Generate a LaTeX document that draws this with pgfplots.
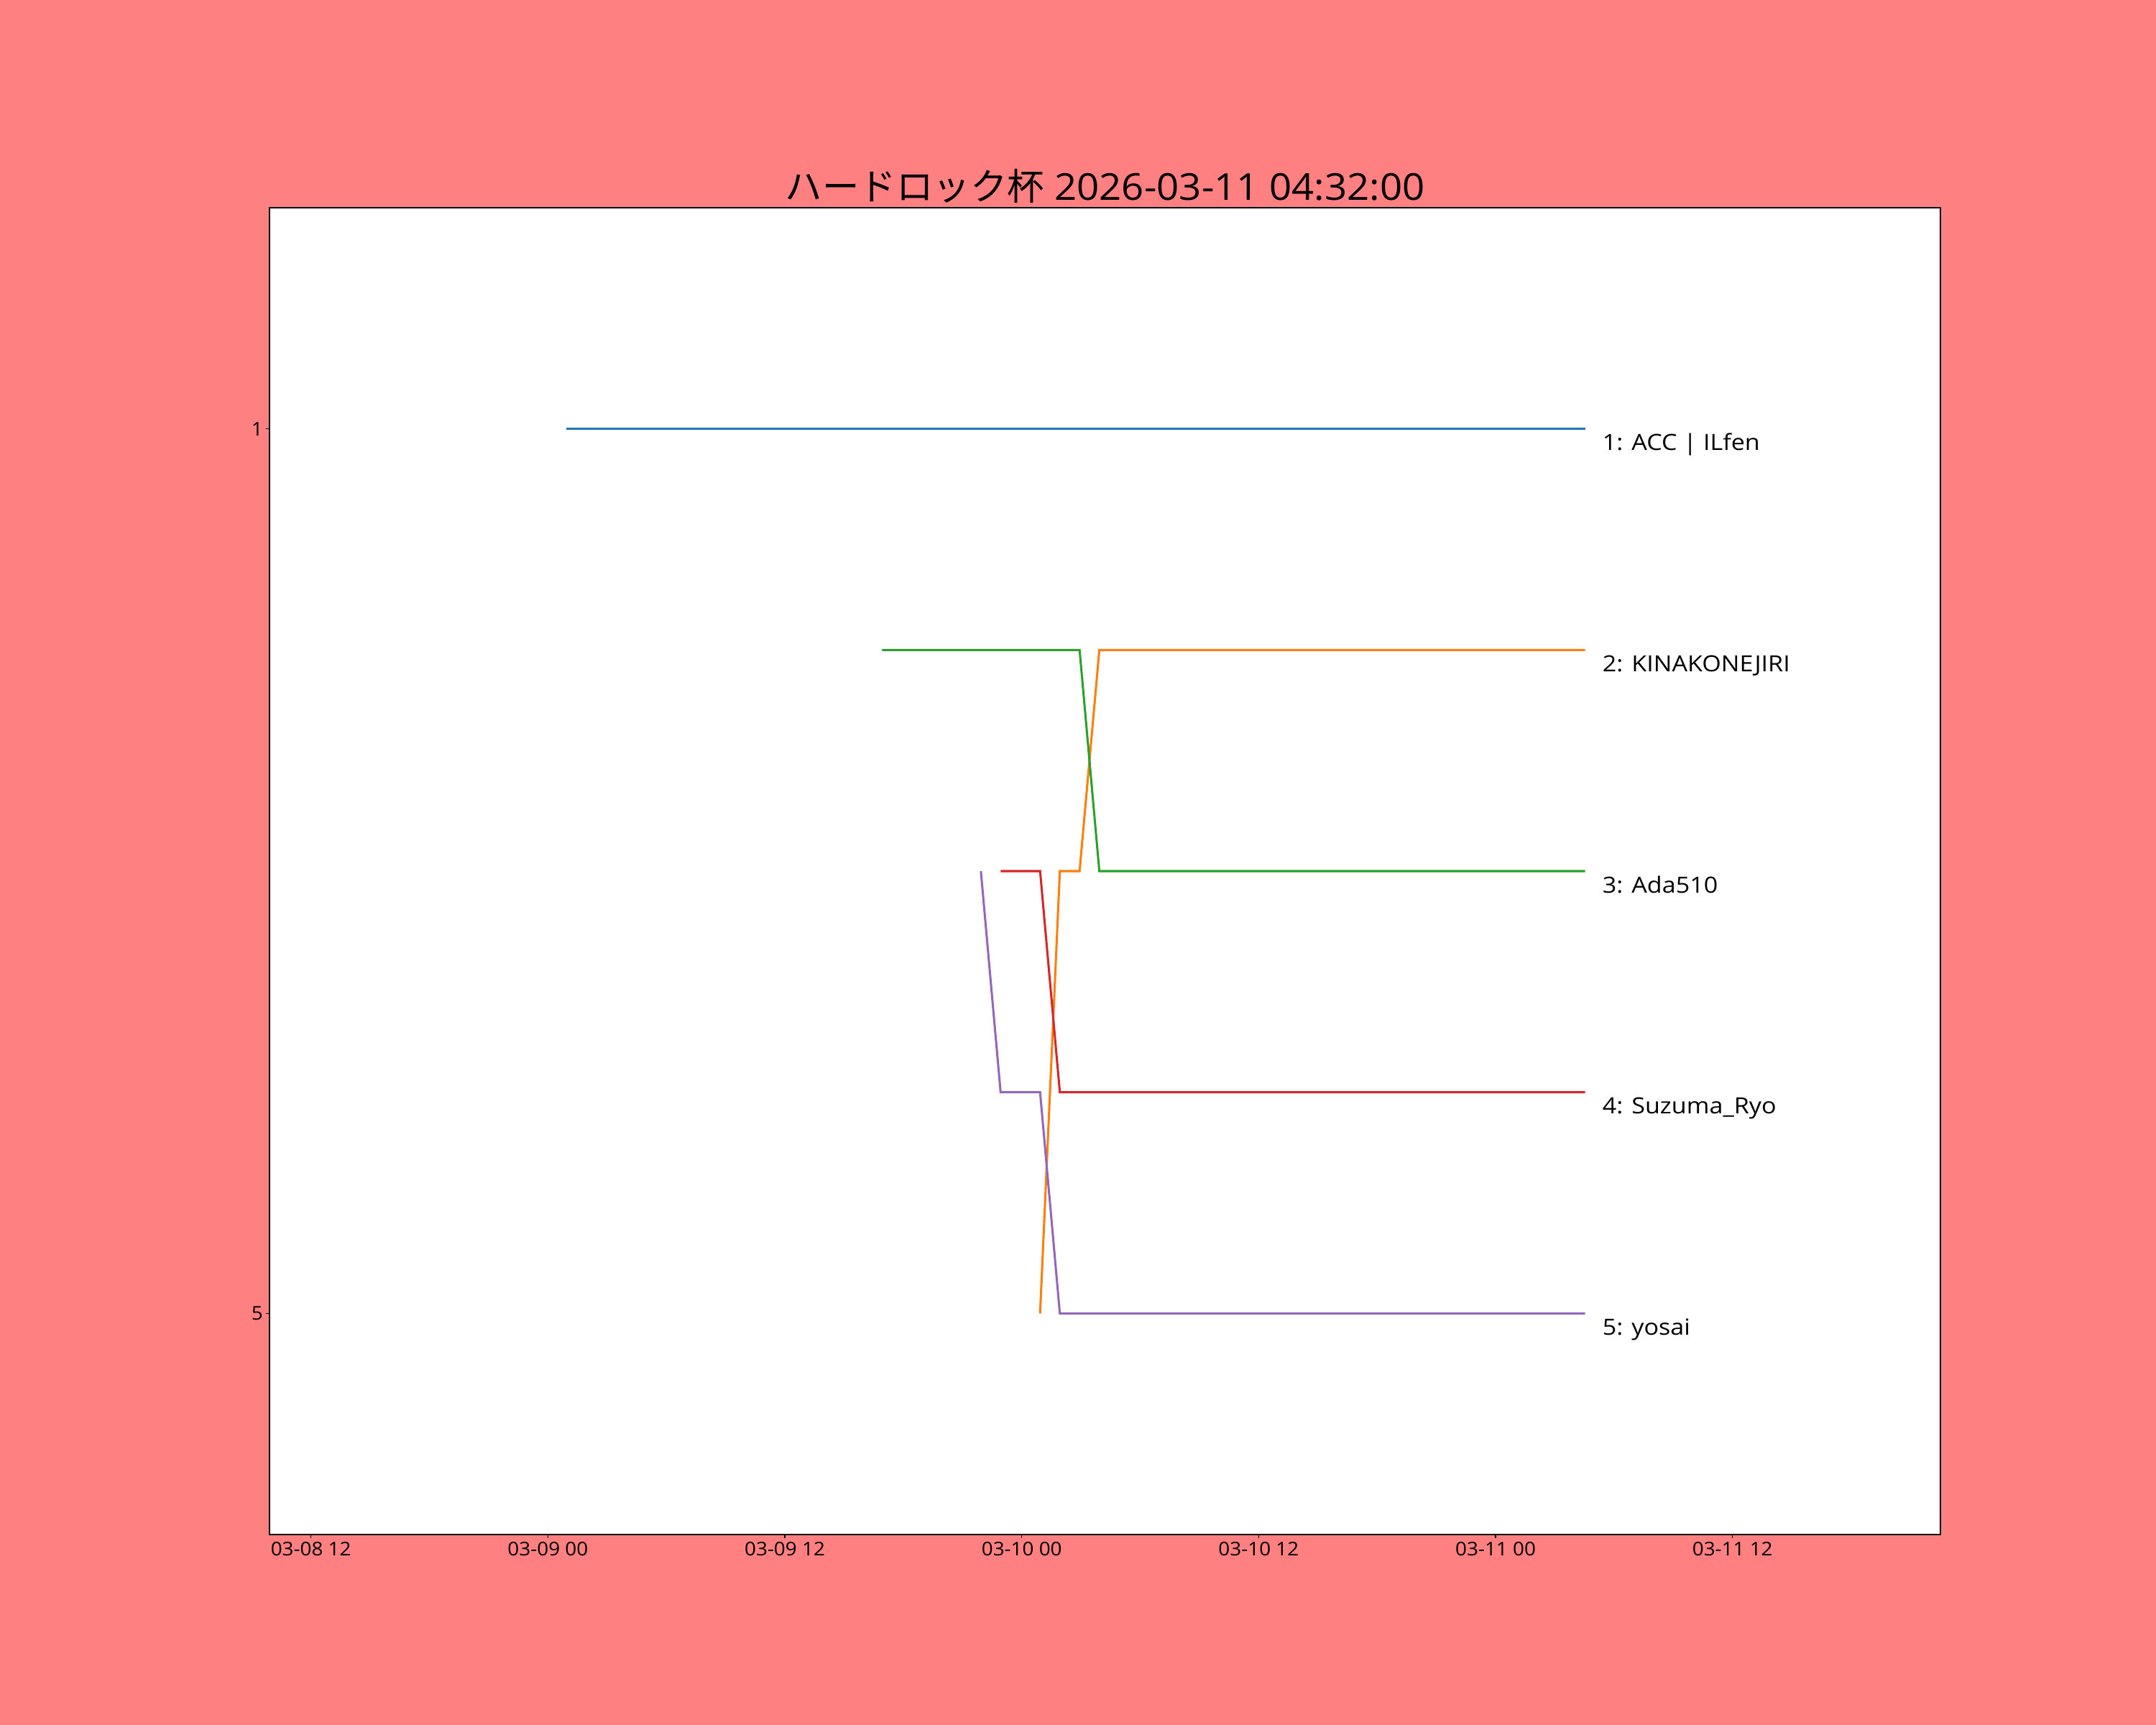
\documentclass[border=0pt]{standalone}
\usepackage{fontspec}
\setmainfont{Open Sans}[FakeStretch=1.06]
\newfontfamily\labelfont{Open Sans}[FakeStretch=1.1]
\newfontfamily\cjk{Noto Sans CJK JP}
\usepackage{pgfplots}
\pgfplotsset{compat=1.18}

\definecolor{bgpink}{RGB}{255,128,128}
\definecolor{tabblue}{HTML}{1F77B4}
\definecolor{taborange}{HTML}{FF7F0E}
\definecolor{tabgreen}{HTML}{2CA02C}
\definecolor{tabred}{HTML}{D62728}
\definecolor{tabpurple}{HTML}{9467BD}

% hours counted from 03-09 00:00
\begin{document}
\begin{tikzpicture}
\fill[bgpink] (0,0) rectangle (15in,12in);
\begin{axis}[
    at={(1.875in,1.325in)}, anchor=south west,
    scale only axis,
    width=11.625in, height=9.23in,
    axis background/.style={fill=white},
    axis line style={line width=0.7pt},
    xmin=-14.10, xmax=70.53,
    ymin=0, ymax=6,
    y dir=reverse,
    clip=false,
    xtick={-12,0,12,24,36,48,60},
    xticklabels={03-08 12,03-09 00,03-09 12,03-10 00,03-10 12,03-11 00,03-11 12},
    ytick={1,5},
    yticklabels={1,5},
    tick align=outside,
    major tick length=1.8pt,
    tick style={line width=0.5pt, black},
    xtick pos=bottom, ytick pos=left,
    tick label style={font=\fontsize{9.5}{11}\selectfont},
    xticklabel style={yshift=1.4pt},
    yticklabel style={xshift=2pt},
    title={{\cjk ハードロック杯} 2026-03-11 04:32:00},
    title style={font=\fontsize{18.6}{22}\selectfont, at={(0.5,1)}, anchor=base, yshift=-2.1pt, inner sep=0pt},
    every axis plot/.append style={line width=1.1pt},
]
\addplot[tabblue] coordinates {(0.93,1) (52.53,1)};
\addplot[taborange] coordinates {(24.93,5) (25.93,3) (26.93,3) (27.93,2) (52.53,2)};
\addplot[tabgreen] coordinates {(16.93,2) (26.93,2) (27.93,3) (52.53,3)};
\addplot[tabred] coordinates {(22.93,3) (24.93,3) (25.93,4) (52.53,4)};
\addplot[tabpurple] coordinates {(21.93,3) (22.93,4) (24.93,4) (25.93,5) (52.53,5)};

\begin{scope}[every node/.style={anchor=base west, inner sep=0pt, font=\labelfont\fontsize{11.2}{13}\selectfont}]
\node at (axis cs:53.4,1.098) {1: ACC | ILfen};
\node at (axis cs:53.4,2.098) {2: KINAKONEJIRI};
\node at (axis cs:53.4,3.098) {3: Ada510};
\node at (axis cs:53.4,4.098) {4: Suzuma\_Ryo};
\node at (axis cs:53.4,5.098) {5: yosai};
\end{scope}
\end{axis}
\pgfresetboundingbox
\path (0,0) rectangle (15in,12in);
\end{tikzpicture}
\end{document}
